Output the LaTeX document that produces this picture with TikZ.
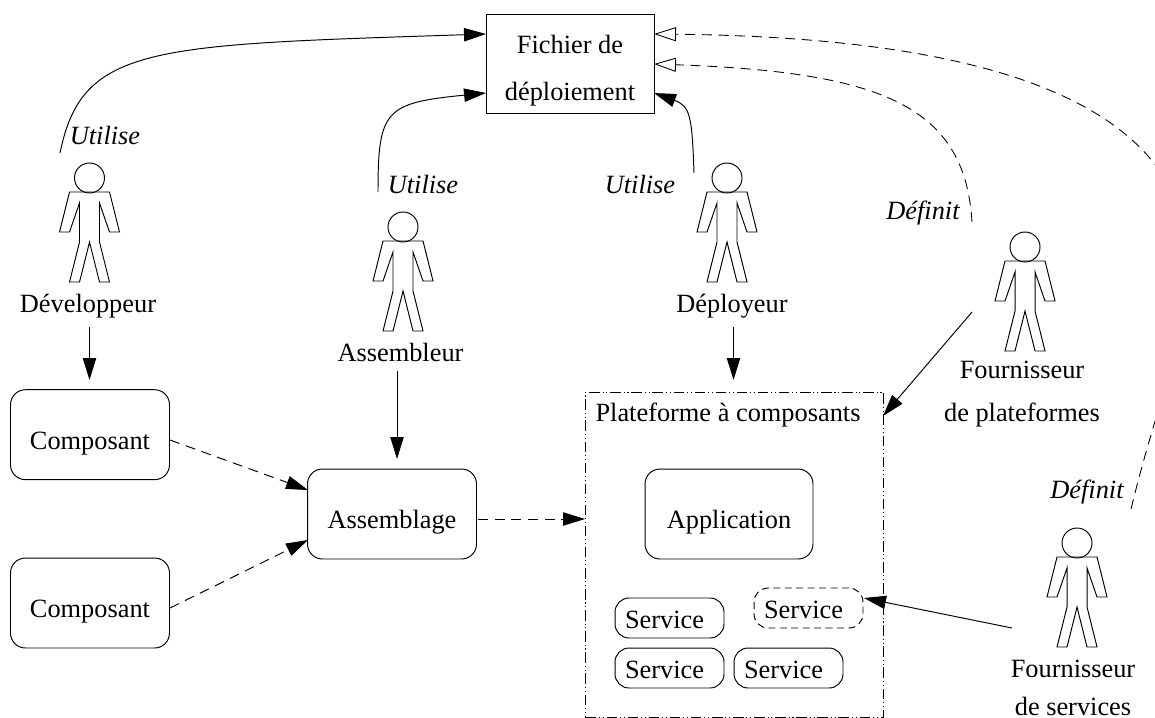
\documentclass[tikz,border=0pt]{standalone}
\usepackage{fontspec}
\setmainfont{Liberation Serif}
\usetikzlibrary{arrows.meta,positioning}
\newcommand{\svclabel}{Service\kern5.6pt}
\tikzset{
  every node/.style={font=\fontsize{15}{24}\selectfont,inner sep=0pt},
  boxround/.style={draw,rounded corners=8.5pt,line width=0.55pt,text height=20pt,text depth=3.3pt,minimum height=1.8cm},
  svc/.style={draw,rounded corners=8pt,line width=0.55pt,minimum width=2.18cm,minimum height=0.8cm,text height=12.5pt,text depth=0pt},
  verb/.style={font=\fontsize{15}{24}\selectfont\itshape},
  plain/.style={line width=0.55pt,-{Triangle[length=12.5pt,width=7.6pt]}},
  flow/.style={plain,dash pattern=on 5.7pt off 3.8pt},
  defines/.style={line width=0.5pt,dash pattern=on 5.7pt off 3.8pt,-{Triangle[open,length=12.5pt,width=8pt]}},
  actorfig/.pic={
    \draw[line width=0.55pt] (0,0) circle (15);
    \draw[line width=0.55pt] (-20,14) -- (-30,54) -- (-20,54) -- (-10,25) -- (-10,64) -- (-20,104)
      -- (-10,104) -- (0,64) -- (10,104) -- (20,104) -- (10,64) -- (10,25) -- (20,54) -- (30,54)
      -- (20,14) -- cycle;
  }
}
\begin{document}
\begin{tikzpicture}[x=0.02cm,y=-0.02cm]
\useasboundingbox (0,0) rectangle (1155,717);
\clip (0,0) rectangle (1155,717);
% actors
\pic at (89.5,178) {actorfig};
\pic at (403,227) {actorfig};
\pic at (727,178) {actorfig};
\pic at (1025,247) {actorfig};
\pic at (1077,543) {actorfig};
\node (dev) at (88,306) {Développeur};
\node (asm) at (400.5,352) {Assembleur};
\node (dep) at (732,306) {Déployeur};
\node[align=center] (fplat) at (1022,394) {Fournisseur\\de plateformes};
\node[align=center,font=\fontsize{15}{22}\selectfont] (fserv) at (1073,688) {Fournisseur\\de services};
% boxes
\node[draw,line width=0.55pt,minimum width=3.36cm,minimum height=1.98cm,align=center,font=\fontsize{15}{26.5}\selectfont] (fichier) at (570,63.5) {\rule{0pt}{18.5pt}Fichier de\\déploiement};
\node[boxround,minimum width=3.18cm] (compa) at (90,434.7) {Composant};
\node[boxround,minimum width=3.18cm] (compb) at (90,603) {Composant};
\node[boxround,minimum width=3.38cm] (assemblage) at (392,514) {Assemblage};
\node[draw,line width=0.55pt,dash pattern=on 6pt off 1.6pt on 0.6pt off 1.6pt on 0.6pt off 1.6pt,minimum width=5.96cm,minimum height=6.5cm,anchor=north west] (plat) at (585,392) {};
\node (plattxt) at (728,415) {Plateforme à composants};
\node[boxround,minimum width=3.36cm] (appli) at (729,514) {Application};
\node[svc] (sa) at (669.5,618) {\svclabel};
\node[svc] (sb) at (669.5,668) {\svclabel};
\node[svc] (sc) at (788.5,668) {\svclabel};
\node[svc,dash pattern=on 4pt off 2.5pt] (sd) at (808.5,608) {\svclabel};
% labels
\node[verb] (ua) at (105,135) {Utilise};
\node[verb] (ub) at (423,184) {Utilise};
\node[verb] (uc) at (640,184) {Utilise};
\node[verb] (da) at (923,213) {Définit};
\node[verb] (db) at (1087,492) {Définit};
% free ends
\coordinate (ca) at (60,153);
\coordinate (cb) at (378,192);
\coordinate (cc) at (694,173);
\coordinate (cd) at (972,222);
\coordinate (ce) at (1131,509);
\coordinate (cx) at (1190,270);
\coordinate (cf) at (972,312);
\coordinate (cg) at (1012,628);
\coordinate (fa) at (486,34);
\coordinate (fb) at (486,93);
\coordinate (fc) at (654,93);
\coordinate (fd) at (654,64);
\coordinate (fe) at (654,34);
\coordinate (pa) at (883,416);
\coordinate (sp) at (864,598);
\coordinate (asa) at (308,490);
\coordinate (asb) at (308,540);
\coordinate (csa) at (170,440);
\coordinate (csb) at (170,608);
\coordinate (asc) at (478,519);
\coordinate (pb) at (585,519);
\coordinate (dva) at (89.5,327);
\coordinate (dvb) at (89.5,380);
\coordinate (ama) at (397,371);
\coordinate (amb) at (397,459);
\coordinate (dpa) at (733.5,327);
\coordinate (dpb) at (733.5,380);
% usage
\draw[plain] (ca) .. controls (82,45) and (150,45) .. (fa);
\draw[plain] (cb) .. controls (378,110) and (385,103) .. (fb);
\draw[plain] (cc) .. controls (692,115) and (690,106) .. (fc);
% definitions
\draw[defines] (cd) .. controls (965,105) and (880,72) .. (fd);
\draw[defines] (ce) .. controls (1160,390) and (1190,330) .. (cx) .. controls (1190,120) and (1030,38) .. (fe);
% the rest
\draw[plain] (dva) -- (dvb);
\draw[plain] (ama) -- (amb);
\draw[plain] (dpa) -- (dpb);
\draw[plain] (cf) -- (pa);
\draw[plain] (cg) -- (sp);
\draw[flow] (csa) -- (asa);
\draw[flow] (csb) -- (asb);
\draw[flow] (asc) -- (pb);
\end{tikzpicture}
\end{document}
